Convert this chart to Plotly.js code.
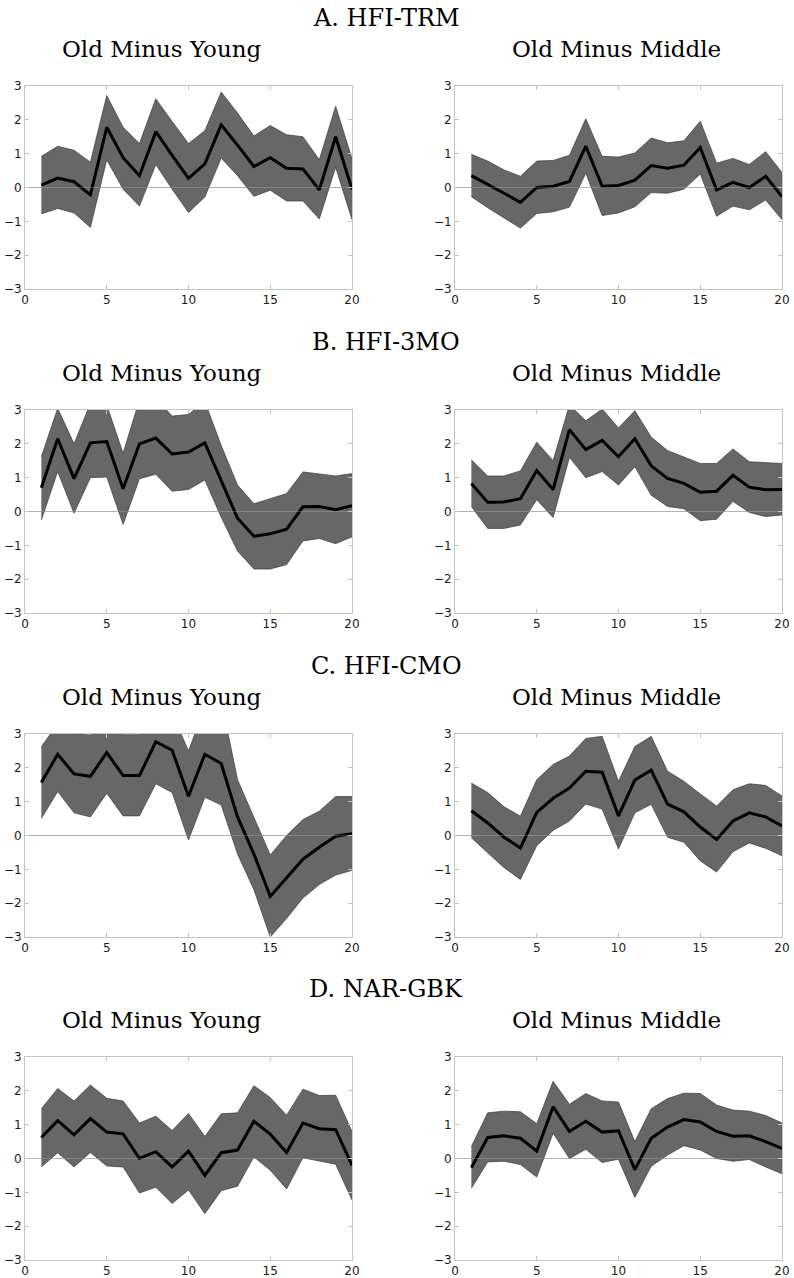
<!DOCTYPE html>
<html><head><meta charset="utf-8">
<script src="https://cdn.plot.ly/plotly-3.0.1.min.js"></script>
<style>html,body{margin:0;padding:0;background:#fff}#chart{width:794px;height:1278px}</style>
</head><body><div id="chart"></div>
<script>
const horizon = [1,2,3,4,5,6,7,8,9,10,11,12,13,14,15,16,17,18,19,20];
const sectionTitles = ["A. HFI-TRM", "B. HFI-3MO", "C. HFI-CMO", "D. NAR-GBK"];
const panelTitles = ["Old Minus Young", "Old Minus Middle"];
const xTickVals = [0, 5, 10, 15, 20];
const yTickVals = [-3, -2, -1, 0, 1, 2, 3];

// A. HFI-TRM
const trmYoungMean  = [0.07,0.28,0.17,-0.22,1.78,0.88,0.35,1.65,0.95,0.27,0.7,1.85,1.25,0.62,0.88,0.57,0.55,-0.07,1.5,-0.05];
const trmYoungUpper = [0.92,1.22,1.1,0.75,2.72,1.78,1.3,2.62,1.95,1.3,1.68,2.82,2.2,1.52,1.83,1.56,1.5,0.82,2.4,0.85];
const trmYoungLower = [-0.78,-0.62,-0.75,-1.18,0.82,-0.05,-0.55,0.68,-0.05,-0.74,-0.28,0.87,0.35,-0.26,-0.08,-0.4,-0.4,-0.93,0.6,-0.95];
const trmMiddleMean  = [0.35,0.1,-0.17,-0.44,0.0,0.04,0.18,1.22,0.04,0.06,0.22,0.65,0.57,0.66,1.18,-0.07,0.15,0.0,0.33,-0.27];
const trmMiddleUpper = [0.98,0.78,0.52,0.33,0.78,0.8,0.95,2.03,0.92,0.9,1.02,1.46,1.32,1.38,1.96,0.72,0.86,0.68,1.06,0.44];
const trmMiddleLower = [-0.27,-0.6,-0.9,-1.2,-0.77,-0.72,-0.58,0.42,-0.83,-0.75,-0.57,-0.15,-0.17,-0.05,0.4,-0.85,-0.55,-0.66,-0.37,-0.95];

// B. HFI-3MO
const mo3YoungMean  = [0.7,2.15,0.97,2.03,2.07,0.67,2.0,2.17,1.7,1.76,2.03,0.9,-0.2,-0.73,-0.66,-0.52,0.14,0.15,0.05,0.17];
const mo3YoungUpper = [1.62,3.05,2.0,3.2,3.15,1.72,3.3,3.35,2.82,2.87,3.25,1.95,0.78,0.23,0.38,0.53,1.17,1.1,1.05,1.12];
const mo3YoungLower = [-0.25,1.18,-0.05,1.0,1.02,-0.38,0.97,1.1,0.6,0.65,0.93,-0.17,-1.17,-1.7,-1.7,-1.57,-0.87,-0.8,-0.95,-0.75];
const mo3MiddleMean  = [0.83,0.27,0.28,0.38,1.21,0.65,2.42,1.83,2.1,1.62,2.15,1.35,0.98,0.83,0.57,0.6,1.07,0.72,0.64,0.65];
const mo3MiddleUpper = [1.53,1.05,1.05,1.2,2.05,1.5,3.15,2.68,3.03,2.47,2.98,2.2,1.8,1.6,1.42,1.42,1.85,1.47,1.45,1.42];
const mo3MiddleLower = [0.15,-0.5,-0.5,-0.4,0.35,-0.18,1.6,1.0,1.18,0.78,1.32,0.48,0.15,0.08,-0.27,-0.23,0.3,-0.03,-0.15,-0.1];

// C. HFI-CMO
const cmoYoungMean  = [1.57,2.4,1.82,1.75,2.45,1.77,1.77,2.77,2.52,1.16,2.4,2.13,0.55,-0.55,-1.8,-1.25,-0.7,-0.35,-0.02,0.05];
const cmoYoungUpper = [2.63,3.3,3.0,2.97,3.3,2.98,2.98,3.4,3.6,2.5,3.8,4.0,1.65,0.55,-0.58,0.0,0.47,0.72,1.15,1.15];
const cmoYoungLower = [0.5,1.3,0.67,0.55,1.25,0.58,0.58,1.53,1.27,-0.13,1.13,0.9,-0.55,-1.6,-3.0,-2.45,-1.85,-1.45,-1.17,-1.03];
const cmoMiddleMean  = [0.73,0.37,-0.05,-0.37,0.68,1.1,1.4,1.9,1.87,0.58,1.64,1.93,0.93,0.7,0.25,-0.12,0.43,0.67,0.55,0.28];
const cmoMiddleUpper = [1.55,1.27,0.85,0.57,1.65,2.1,2.35,2.87,2.93,1.6,2.63,2.93,1.9,1.6,1.23,0.87,1.35,1.53,1.48,1.17];
const cmoMiddleLower = [-0.07,-0.5,-0.95,-1.3,-0.3,0.15,0.43,0.93,0.78,-0.4,0.67,0.92,-0.05,-0.2,-0.75,-1.08,-0.48,-0.22,-0.38,-0.6];

// D. NAR-GBK
const gbkYoungMean  = [0.62,1.12,0.7,1.18,0.78,0.73,0.0,0.2,-0.25,0.22,-0.5,0.17,0.25,1.1,0.72,0.18,1.05,0.88,0.85,-0.2];
const gbkYoungUpper = [1.47,2.07,1.7,2.17,1.78,1.7,1.05,1.25,0.83,1.33,0.65,1.32,1.35,2.15,1.8,1.28,2.05,1.86,1.87,0.8];
const gbkYoungLower = [-0.25,0.17,-0.25,0.18,-0.22,-0.25,-1.02,-0.85,-1.33,-0.93,-1.63,-0.95,-0.82,0.05,-0.35,-0.9,0.02,-0.08,-0.17,-1.23];
const gbkMiddleMean  = [-0.27,0.62,0.67,0.6,0.22,1.53,0.8,1.1,0.78,0.82,-0.33,0.6,0.93,1.15,1.08,0.8,0.66,0.67,0.5,0.3];
const gbkMiddleUpper = [0.35,1.35,1.4,1.38,1.03,2.28,1.6,1.92,1.7,1.67,0.5,1.47,1.77,1.93,1.92,1.58,1.43,1.4,1.27,1.05];
const gbkMiddleLower = [-0.88,-0.1,-0.08,-0.18,-0.55,0.75,0.0,0.27,-0.12,-0.02,-1.15,-0.23,0.1,0.38,0.25,0.0,-0.08,-0.03,-0.25,-0.45];

const panels = [
  {mean: trmYoungMean, upper: trmYoungUpper, lower: trmYoungLower},
  {mean: trmMiddleMean, upper: trmMiddleUpper, lower: trmMiddleLower},
  {mean: mo3YoungMean, upper: mo3YoungUpper, lower: mo3YoungLower},
  {mean: mo3MiddleMean, upper: mo3MiddleUpper, lower: mo3MiddleLower},
  {mean: cmoYoungMean, upper: cmoYoungUpper, lower: cmoYoungLower},
  {mean: cmoMiddleMean, upper: cmoMiddleUpper, lower: cmoMiddleLower},
  {mean: gbkYoungMean, upper: gbkYoungUpper, lower: gbkYoungLower},
  {mean: gbkMiddleMean, upper: gbkMiddleUpper, lower: gbkMiddleLower}
];

// layout geometry (pixels)
const W = 794, H = 1278;
const colX = [[25, 352], [455, 782]];
const rowTop = [86, 410, 734, 1057];
const plotH = 203;
const subtitleX = [162, 616];
const sectionX = 386;

const data = [];
const layout = {
  width: W, height: H,
  margin: {l: 0, r: 0, t: 0, b: 0},
  paper_bgcolor: '#ffffff', plot_bgcolor: '#ffffff',
  showlegend: false,
  annotations: [], shapes: []
};

panels.forEach((p, i) => {
  const r = Math.floor(i / 2), c = i % 2, n = i + 1;
  const sfx = (n === 1 ? '' : n);
  const xa = 'x' + sfx, ya = 'y' + sfx;
  data.push({x: horizon, y: p.lower, xaxis: xa, yaxis: ya, type: 'scatter', mode: 'lines',
    line: {color: '#3a3a3a', width: 0.7}, hoverinfo: 'skip'});
  data.push({x: horizon, y: p.upper, xaxis: xa, yaxis: ya, type: 'scatter', mode: 'lines',
    fill: 'tonexty', fillcolor: '#676767', line: {color: '#3a3a3a', width: 0.7}, hoverinfo: 'skip'});
  data.push({x: horizon, y: p.mean, xaxis: xa, yaxis: ya, type: 'scatter', mode: 'lines',
    line: {color: '#000000', width: 3}});
  const axCommon = {
    showline: true, mirror: 'ticks', linecolor: '#c4c4c4', linewidth: 1,
    ticks: 'inside', ticklen: 4, tickcolor: '#c4c4c4', tickwidth: 1,
    showgrid: false, fixedrange: true,
    tickfont: {family: 'DejaVu Sans, Liberation Sans, sans-serif', size: 12, color: '#1a1a1a'}
  };
  layout['xaxis' + sfx] = Object.assign({}, axCommon, {
    domain: [colX[c][0] / W, colX[c][1] / W], anchor: ya,
    range: [0, 20], tickvals: xTickVals, zeroline: false
  });
  layout['yaxis' + sfx] = Object.assign({}, axCommon, {
    domain: [1 - (rowTop[r] + plotH) / H, 1 - rowTop[r] / H], anchor: xa,
    range: [-3, 3], tickvals: yTickVals, zeroline: true, zerolinecolor: '#a8a8a8', zerolinewidth: 1
  });
  layout.shapes.push({type: 'line', xref: xa + ' domain', x0: 0, x1: 1, yref: ya, y0: 0, y1: 0,
    layer: 'above', line: {color: 'rgba(205,205,205,0.28)', width: 1}});
  layout.annotations.push({text: panelTitles[c], xref: 'paper', yref: 'paper',
    x: subtitleX[c] / W, y: 1 - (rowTop[r] - 37) / H, xanchor: 'center', yanchor: 'middle',
    showarrow: false, font: {family: 'DejaVu Serif, Liberation Serif, serif', size: 23, color: '#000'}});
});
sectionTitles.forEach((t, r) => {
  layout.annotations.push({text: t, xref: 'paper', yref: 'paper',
    x: sectionX / W, y: 1 - (rowTop[r] - 68) / H, xanchor: 'center', yanchor: 'middle',
    showarrow: false, font: {family: 'DejaVu Serif, Liberation Serif, serif', size: 24, color: '#000'}});
});

Plotly.newPlot('chart', data, layout, {displayModeBar: false, staticPlot: true});
</script>
</body></html>
